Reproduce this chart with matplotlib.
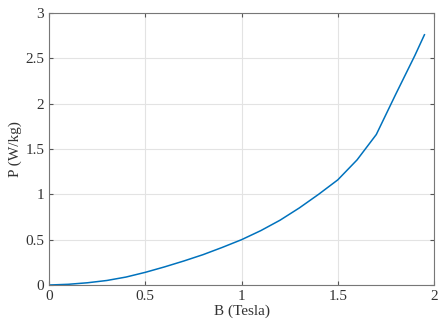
import matplotlib

matplotlib.use("Agg")
import matplotlib.pyplot as plt

# B (Tesla) vs specific core loss P (W/kg)
b_tesla = [0.0, 0.1, 0.2, 0.3, 0.4, 0.5, 0.6, 0.7, 0.8, 0.9, 1.0,
           1.1, 1.2, 1.3, 1.4, 1.5, 1.6, 1.7, 1.8, 1.9, 1.95]
p_wkg = [0.0, 0.008, 0.025, 0.05, 0.088, 0.14, 0.20, 0.265, 0.335, 0.415, 0.50,
         0.60, 0.715, 0.85, 1.00, 1.16, 1.38, 1.66, 2.10, 2.53, 2.76]
x_ticks = [0, 0.5, 1, 1.5, 2]
y_ticks = [0, 0.5, 1, 1.5, 2, 2.5, 3]

plt.rcParams["font.family"] = ["Liberation Serif", "DejaVu Serif"]

fig = plt.figure(figsize=(4.38, 3.25), dpi=100)
ax = fig.add_axes([0.112, 0.123, 0.879, 0.837])

ax.plot(b_tesla, p_wkg, color=(0.0, 0.447, 0.741), lw=1.1)

ax.set_xlim(0, 2)
ax.set_ylim(0, 3)
ax.set_xticks(x_ticks)
ax.set_yticks(y_ticks)
ax.set_xticklabels(["0", "0.5", "1", "1.5", "2"])
ax.set_yticklabels(["0", "0.5", "1", "1.5", "2", "2.5", "3"])
ax.set_xlabel("B (Tesla)", fontsize=11, color="#333333", labelpad=1)
ax.set_ylabel("P (W/kg)", fontsize=11, color="#333333", labelpad=2)

ax.grid(True, color="#e3e3e3", lw=0.8)
ax.set_axisbelow(True)
ax.tick_params(direction="in", top=True, right=True, length=3,
               labelsize=11, colors="#555555", labelcolor="#333333")
for s in ax.spines.values():
    s.set_color("#777777")
    s.set_linewidth(0.8)

fig.savefig("out.png", dpi=100)
